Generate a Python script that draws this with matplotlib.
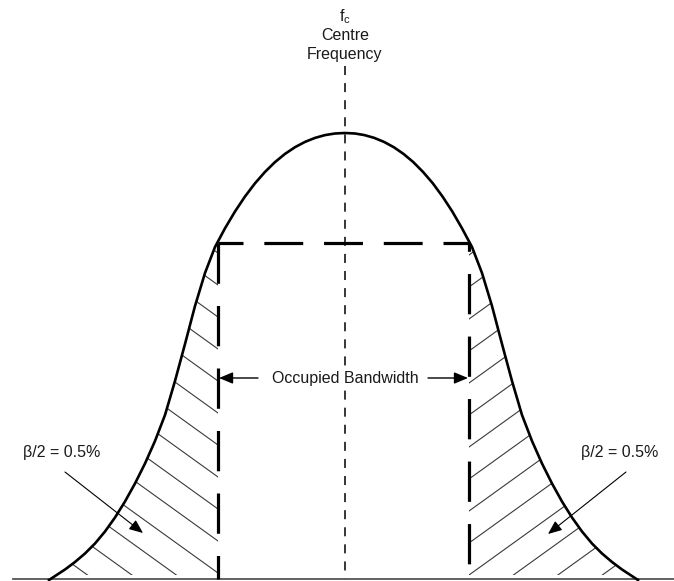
import numpy as np
import matplotlib.pyplot as plt
from matplotlib.patches import Polygon

plt.rcParams["font.family"] = ["Liberation Sans", "DejaVu Sans"]
plt.rcParams["mathtext.fontset"] = "custom"
plt.rcParams["mathtext.rm"] = "Liberation Sans"
plt.rcParams["mathtext.it"] = "Liberation Sans"
plt.rcParams["lines.scale_dashes"] = False

# emission curve in pixel units (y grows downward)
left_x = [49, 65, 75, 85, 95, 105, 115, 125, 135, 145, 155, 165, 175, 185, 195,
          205, 215, 225, 235, 245, 255, 265, 275, 285, 295, 305, 315, 325, 335, 345]
left_y = [580, 569.5, 562, 553.5, 543.5, 531.5, 517.5, 501.5, 483.5, 463.5, 441,
          415, 381, 344, 306, 273, 247, 228.3, 211.5, 196.5, 183.3, 171.9, 162.1,
          153.9, 147.2, 141.9, 137.9, 135.1, 133.5, 133]
right_x = [355, 364.5, 374.3, 384, 393.8, 403.5, 413.3, 423, 432.8, 442.5, 452.3,
           462, 472, 482, 492, 502, 512, 522, 532, 542, 552, 562, 572, 582, 592,
           602, 612, 622, 638]
right_y = [133.5, 135.1, 137.9, 141.9, 147.2, 153.9, 162.1, 171.9, 183.3, 196.5,
           211.5, 228.3, 247, 273, 306, 344, 381, 415, 441, 463.5, 483.5, 501.5,
           517.5, 531.5, 543.5, 553.5, 562, 569.5, 580]

centre_x = 345
band_left = 218
band_right = 469
band_top = 243
baseline = 579

centre_lines = ["Centre", "Frequency"]
band_label = "Occupied Bandwidth"
beta_label = "β/2 = 0.5%"

fig = plt.figure(figsize=(6.74, 5.81), dpi=100)
ax = fig.add_axes([0, 0, 1, 1])
ax.set_xlim(0, 674)
ax.set_ylim(581, 0)
ax.axis("off")

# bell curve
ax.plot(left_x + right_x, left_y + right_y, color="black", lw=1.9,
        solid_joinstyle="round", zorder=4)
ax.plot([13, 674], [baseline, baseline], color="#555555", lw=1.3, zorder=3)

# centre frequency line
ax.plot([centre_x, centre_x], [66, baseline], color="black", lw=1.1,
        ls=(0, (6.5, 5.8)), dash_capstyle="butt", zorder=2)

# occupied bandwidth rectangle (dashed)
ax.plot([band_left, band_right], [band_top, band_top], color="black", lw=2.3,
        ls=(10, (28, 15)), dash_capstyle="butt", zorder=3)
ax.plot([band_left, band_left], [band_top, baseline], color="black", lw=2.3,
        ls=(0, (29, 16)), dash_capstyle="butt", zorder=3)
ax.plot([band_right, band_right], [band_top, baseline], color="black", lw=2.3,
        ls=(23, (29, 16)), dash_capstyle="butt", zorder=3)


def hatch(px, py, edge_x, first_y, slope):
    poly = Polygon(np.column_stack([px, py]), closed=True, fill=False,
                   edgecolor="none", transform=ax.transData)
    ax.add_patch(poly)
    for y0 in np.arange(first_y - 32 * 12, first_y + 32 * 12, 32):
        sx = np.array([edge_x - 320, edge_x + 320])
        sy = y0 + slope * (sx - edge_x)
        ln, = ax.plot(sx, sy, color="#3a3a3a", lw=0.8, zorder=1)
        ln.set_clip_path(poly)


cut = baseline - 4
lx = np.array(left_x)
ly = np.array(left_y)
m = (ly <= cut) & (ly >= band_top)
lx_cut = np.interp(cut, ly[::-1], lx[::-1])
hatch(np.r_[lx_cut, lx[m], band_left, band_left],
      np.r_[cut, ly[m], band_top, cut], band_left, 413, 0.72)

rx = np.array(right_x)
ry = np.array(right_y)
m = (ry <= cut) & (ry >= band_top)
rx_cut = np.interp(cut, ry, rx)
hatch(np.r_[band_right, rx[m], rx_cut, band_right],
      np.r_[band_top, ry[m], cut, cut], band_right, 415, -0.72)

# labels
txt = dict(color="#1a1a1a", fontsize=11.5, ha="center", va="center")
ax.text(centre_x, 17, r"$\mathrm{f_c}$", **txt)
ax.text(centre_x, 36, centre_lines[0], **txt)
ax.text(centre_x, 55, centre_lines[1], **txt)
ax.text(centre_x + 0.5, 378, band_label, zorder=5,
        bbox=dict(facecolor="white", edgecolor="none", pad=2), **txt)

arrow = dict(arrowstyle="-|>,head_length=0.6,head_width=0.25", color="black",
             lw=1.0, shrinkA=0, shrinkB=0, mutation_scale=14)
ax.annotate("", xy=(band_left + 1, 378), xytext=(258, 378), arrowprops=arrow, zorder=5)
ax.annotate("", xy=(band_right - 1, 378), xytext=(428, 378), arrowprops=arrow, zorder=5)

ax.text(62, 453, beta_label, **txt)
ax.text(620, 453, beta_label, **txt)
thin = dict(arrow, lw=0.8)
ax.annotate("", xy=(143, 533), xytext=(65, 472), arrowprops=thin, zorder=5)
ax.annotate("", xy=(548, 534), xytext=(626, 472), arrowprops=thin, zorder=5)

fig.savefig("out.png", dpi=100)
